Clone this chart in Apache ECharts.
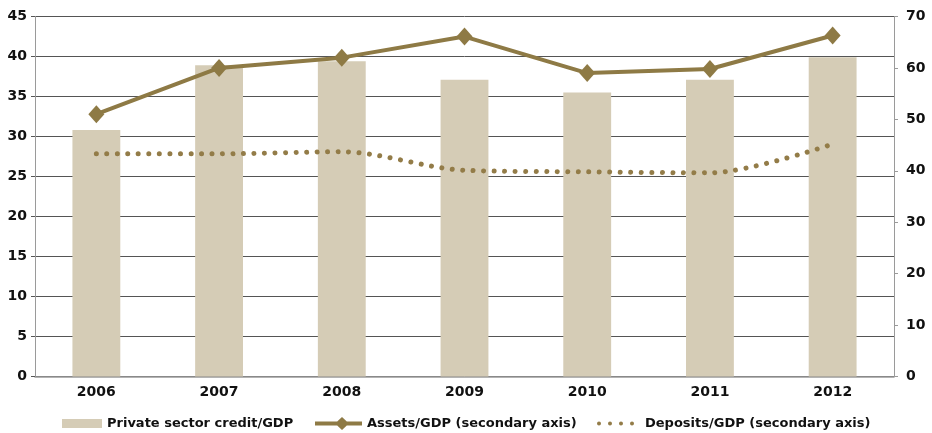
<!DOCTYPE html>
<html>
<head>
<meta charset="utf-8">
<script src="https://cdn.jsdelivr.net/npm/echarts@6/dist/echarts.min.js"></script>
<style>
html,body{margin:0;padding:0;background:#fff;}
#chart{width:932px;height:433px;}
</style>
</head>
<body>
<div id="chart"></div>
<script>
var categories = ['2006','2007','2008','2009','2010','2011','2012'];
var privateCredit = [30.8, 38.9, 39.4, 37.1, 35.5, 37.1, 39.9];
var assets = [51.0, 60.0, 62.0, 66.1, 59.0, 59.8, 66.3];
var deposits = [43.3, 43.3, 43.7, 40.1, 39.8, 39.6, 45.2];
var leftTicks = {min: 0, max: 45, interval: 5};
var rightTicks = {min: 0, max: 70, interval: 10};

var barColor = '#D5CCB6';
var lineColor = '#8E7A45';
var dotColor = '#937C48';
var gridColor = '#555555';
var axisColor = '#9a9a9a';
var font = 'DejaVu Sans';

var assetsIcon = 'path://M0,4.5H22.2L27,0L31.8,4.5H47V8.5H31.8L27,13L22.2,8.5H0Z';
var dotsIcon = 'path://M0,2a2,2 0 1,0 4,0a2,2 0 1,0 -4,0zM11,2a2,2 0 1,0 4,0a2,2 0 1,0 -4,0zM22,2a2,2 0 1,0 4,0a2,2 0 1,0 -4,0zM33,2a2,2 0 1,0 4,0a2,2 0 1,0 -4,0z';

var legendText = {fontFamily: font, fontSize: 13, fontWeight: 'bold', color: '#111'};

var chart = echarts.init(document.getElementById('chart'), null, {renderer: 'canvas'});
chart.setOption({
  animation: false,
  backgroundColor: '#ffffff',
  textStyle: {fontFamily: font},
  grid: {left: 35, right: 38, top: 16.5, bottom: 56.5, containLabel: false},
  legend: [
    {
      data: [{name: 'Private sector credit/GDP', icon: 'rect'}],
      left: 57, top: 412,
      itemWidth: 40, itemHeight: 9,
      textStyle: legendText
    },
    {
      data: [{name: 'Assets/GDP (secondary axis)', icon: assetsIcon, itemStyle: {color: lineColor}}],
      left: 310, top: 412,
      itemWidth: 47, itemHeight: 13,
      textStyle: legendText
    },
    {
      data: [{name: 'Deposits/GDP (secondary axis)', icon: dotsIcon, itemStyle: {color: dotColor}}],
      left: 592, top: 412,
      itemWidth: 37, itemHeight: 4,
      textStyle: Object.assign({}, legendText, {padding: [0, 0, 0, 6]})
    }
  ],
  xAxis: {
    type: 'category',
    data: categories,
    axisLine: {show: true, lineStyle: {color: axisColor, width: 1.5}},
    axisTick: {show: false},
    axisLabel: {fontFamily: font, fontSize: 14, fontWeight: 'bold', color: '#111', margin: 9}
  },
  yAxis: [
    {
      type: 'value',
      min: leftTicks.min, max: leftTicks.max, interval: leftTicks.interval,
      axisLine: {show: true, lineStyle: {color: axisColor, width: 1}},
      axisTick: {show: true, length: 4, lineStyle: {color: gridColor}},
      splitLine: {show: true, lineStyle: {color: gridColor, width: 1}},
      axisLabel: {fontFamily: font, fontSize: 14, fontWeight: 'bold', color: '#111', margin: 8}
    },
    {
      type: 'value',
      position: 'right',
      min: rightTicks.min, max: rightTicks.max, interval: rightTicks.interval,
      axisLine: {show: true, lineStyle: {color: axisColor, width: 1}},
      axisTick: {show: true, length: 4, lineStyle: {color: axisColor}},
      splitLine: {show: false},
      axisLabel: {fontFamily: font, fontSize: 14, fontWeight: 'bold', color: '#111', margin: 12}
    }
  ],
  series: [
    {
      name: 'Private sector credit/GDP',
      type: 'bar',
      yAxisIndex: 0,
      data: privateCredit,
      barWidth: '39%',
      itemStyle: {color: barColor},
      z: 2
    },
    {
      name: 'Assets/GDP (secondary axis)',
      type: 'line',
      yAxisIndex: 1,
      data: assets,
      symbol: 'diamond',
      symbolSize: [16, 18],
      itemStyle: {color: lineColor},
      lineStyle: {color: lineColor, width: 4},
      z: 4
    },
    {
      name: 'Deposits/GDP (secondary axis)',
      type: 'line',
      yAxisIndex: 1,
      data: deposits,
      symbol: 'none',
      smooth: 0.3,
      itemStyle: {color: dotColor},
      lineStyle: {color: dotColor, width: 5, type: [0.01, 10.5], cap: 'round'},
      z: 3
    }
  ]
});
</script>
</body>
</html>
